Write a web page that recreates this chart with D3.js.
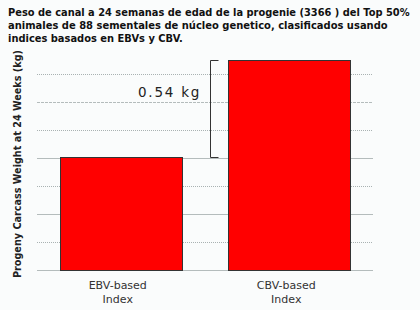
<!DOCTYPE html>
<html>
<head>
<meta charset="utf-8">
<script src="https://cdn.jsdelivr.net/npm/d3@7"></script>
<style>
  html, body { margin: 0; padding: 0; background: #fafcfc; }
  svg { display: block; }
  .title { font-family: "DejaVu Sans", sans-serif; font-weight: bold; fill: #111; }
  .ylabel { font: bold 10.5px "DejaVu Sans", sans-serif; fill: #222; }
  .cat { font: 11px "DejaVu Sans", sans-serif; fill: #333; }
  .diff { font: 13.5px "DejaVu Sans", sans-serif; fill: #222; letter-spacing: 2.6px; }
</style>
</head>
<body>
<svg width="420" height="310"></svg>
<script>
  // chart data
  const categories = ['EBV-based Index', 'CBV-based Index'];
  const catLines = [['EBV-based', 'Index'], ['CBV-based', 'Index']];
  const weights = [20.62, 21.16];        // kg, relative baseline of 20 kg (axis unlabeled)
  const diffLabel = '0.54 kg';
  const titleLines = [
    'Peso de canal a 24 semanas de edad de la progenie (3366 ) del Top 50%',
    'animales de 88 sementales de núcleo genetico, clasificados usando',
    'indices basados en EBVs y CBV.'
  ];
  const yTitle = 'Progeny Carcass Weight at 24 Weeks (kg)';

  const svg = d3.select('svg');
  const plotLeft = 37, plotRight = 373, plotTop = 45, plotBottom = 270;

  const x = d3.scaleBand()
    .domain(categories)
    .range([plotLeft, plotRight])
    .paddingInner(0.276)
    .paddingOuter(0.135);

  const y = d3.scaleLinear()
    .domain([20, 21.24])
    .range([plotBottom, plotTop]);

  // title: squeeze each line horizontally to the width seen in the original
  const titleWidths = [402, 380, 175];
  const baseSize = 11;
  svg.append('g').selectAll('text')
    .data(titleLines)
    .enter().append('text')
    .attr('class', 'title')
    .style('font-size', baseSize + 'px')
    .text(d => d)
    .each(function(d, i) {
      const len = this.getComputedTextLength();
      const k = titleWidths[i] / len;
      const by = 16 + i * 13;
      d3.select(this)
        .style('font-size', (baseSize * k) + 'px')
        .attr('x', 8)
        .attr('y', 0)
        .attr('transform', 'translate(0,' + by + ') scale(1,' + (1 / k) + ')');
    });

  // grid: 7 steps of 28px above the baseline
  const gridStep = (y.domain()[1] - y.domain()[0]) * 28 / (plotBottom - plotTop);
  const gridVals = d3.range(8).map(i => y.domain()[0] + i * gridStep);
  svg.append('g').selectAll('line')
    .data(gridVals)
    .enter().append('line')
    .attr('x1', plotLeft)
    .attr('x2', plotRight)
    .attr('y1', d => Math.round(y(d)) + 0.5)
    .attr('y2', d => Math.round(y(d)) + 0.5)
    .attr('stroke', (d, i) => i % 2 === 0 ? '#b4bcbc' : '#a9b2b2')
    .attr('stroke-dasharray', (d, i) => i % 2 === 0 ? (i === 6 ? '3,1' : null) : '1,1');

  // bars
  svg.append('g').selectAll('rect')
    .data(weights)
    .enter().append('rect')
    .attr('x', (d, i) => Math.round(x(categories[i])) + 0.5)
    .attr('y', d => Math.round(y(d)) + 0.5)
    .attr('width', Math.round(x.bandwidth()))
    .attr('height', d => Math.round(y.range()[0] - y(d)))
    .attr('fill', '#ff0000')
    .attr('stroke', '#333')
    .attr('stroke-width', 1);

  // category labels
  const cats = svg.append('g').selectAll('text')
    .data(categories)
    .enter().append('text')
    .attr('class', 'cat')
    .attr('text-anchor', 'middle')
    .attr('transform', d => 'translate(' + (x(d) + x.bandwidth() / 2 - 3) + ',289)');
  cats.each(function(d, i) {
    d3.select(this).selectAll('tspan')
      .data(catLines[i])
      .enter().append('tspan')
      .attr('x', 0)
      .attr('dy', (t, j) => j === 0 ? 0 : 14)
      .text(t => t);
  });

  // y title
  svg.append('text')
    .attr('class', 'ylabel')
    .attr('text-anchor', 'middle')
    .attr('transform', 'translate(21,' + 164 + ') rotate(-90)')
    .attr('textLength', 228)
    .attr('lengthAdjust', 'spacingAndGlyphs')
    .text(yTitle);

  // difference bracket
  const bx = 210.5;
  const yHi = Math.round(y(weights[1])) + 0.5;
  const yLo = Math.round(y(weights[0])) + 0.5;
  svg.append('path')
    .attr('d', 'M' + (bx + 8) + ',' + yHi + 'H' + bx + 'V' + yLo + 'H' + (bx + 8))
    .attr('fill', 'none')
    .attr('stroke', '#333')
    .attr('stroke-width', 1);

  svg.append('text')
    .attr('class', 'diff')
    .attr('x', 138)
    .attr('y', 97)
    .attr('textLength', 64)
    .text(diffLabel);
</script>
</body>
</html>
